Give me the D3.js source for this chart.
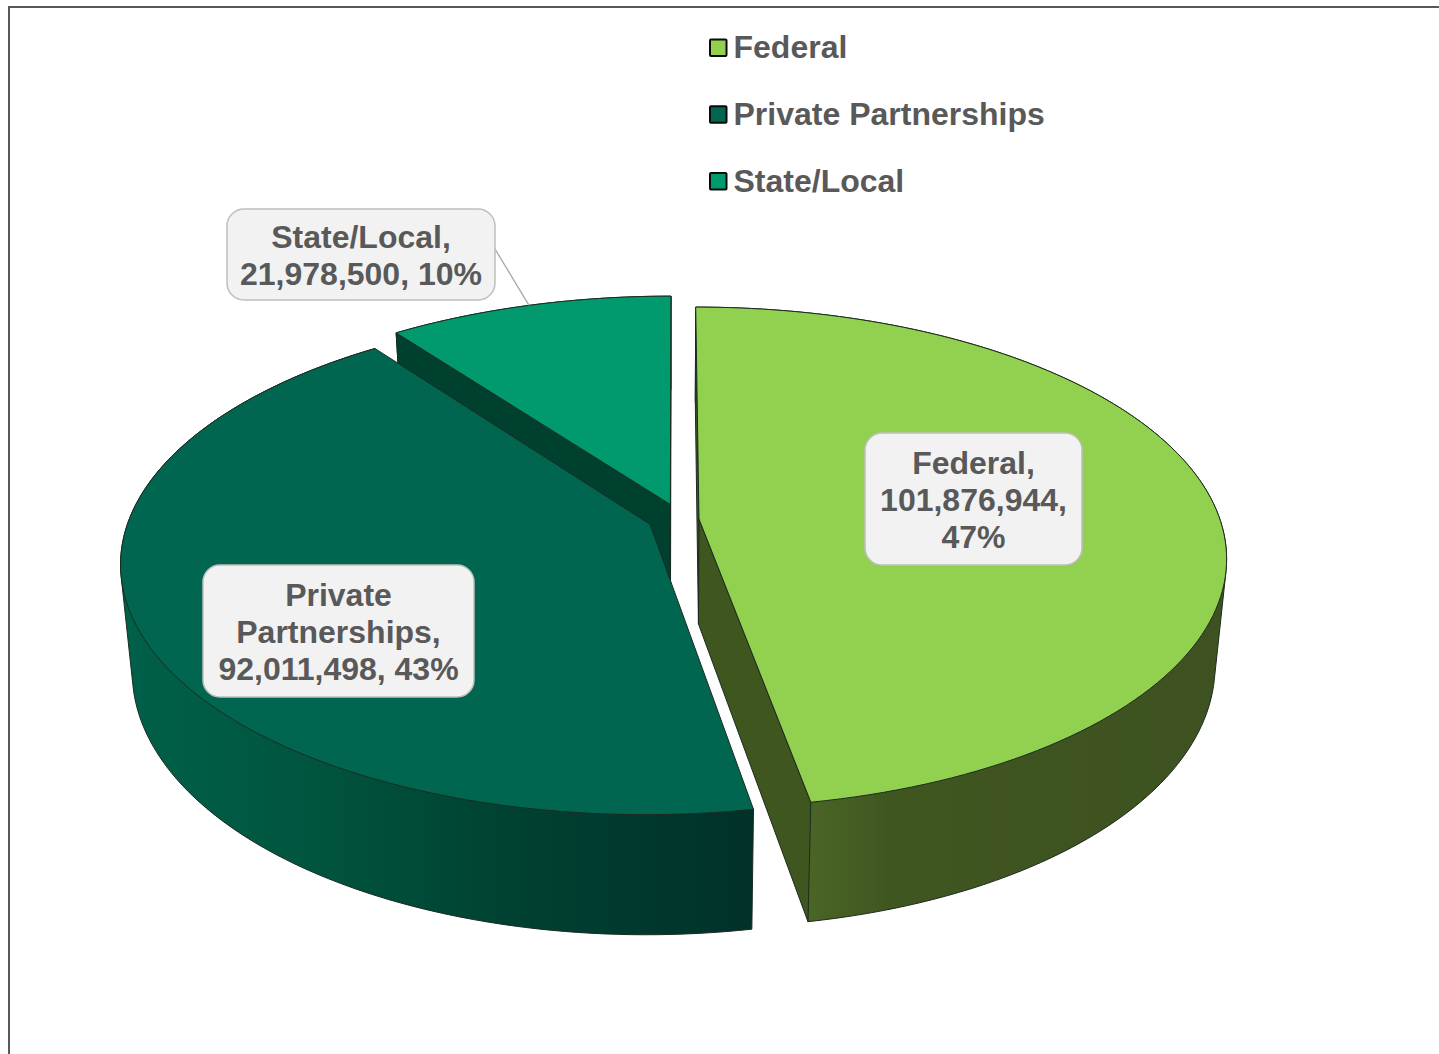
<!DOCTYPE html>
<html>
<head>
<meta charset="utf-8">
<style>
	body { margin: 0; background: #fff; }
	svg { display: block; }
	text { font-family: "Liberation Sans", Arial, sans-serif; font-weight: bold; fill: #595959; font-size: 32px; }
</style>
<script src="https://cdn.jsdelivr.net/npm/d3@7"></script>
</head>
<body>
<div id="chart"></div>
<script>
const categories = ["Federal", "Private Partnerships", "State/Local"];
const values = [101876944, 92011498, 21978500];
const percents = ["47%", "43%", "10%"];

const topColors = ["#92d050", "#00664f", "#009a6e"];
const WIDTH = 1439;
const HEIGHT = 1054;

// the disc is drawn in perspective, top rim and bottom rim get their own projection
const TOP_DISC = { cx: 674.5, cy: 519.5, a: 521, b: 244.5, p: 0.153 };
const BOTTOM_DISC = { cx: 674.5, cy: 624.5, a: 510, b: 257, p: 0.153 };
// how far each slice is pulled out of the disc, in disc radii
const EXPLODE = [[0.047, 0.002], [-0.047, -0.019], [-0.008, 0.062]];

// text lines and boxes of the data labels
const labelLines = [
	(i) => [categories[i] + ",", d3.format(",")(values[i]) + ",", percents[i]],
	(i) => ["Private", "Partnerships,", d3.format(",")(values[i]) + ", " + percents[i]],
	(i) => [categories[i] + ",", d3.format(",")(values[i]) + ", " + percents[i]],
];
const labelBoxes = [
	{ x: 865, y: 433, w: 217, h: 132, firstLine: 463 },
	{ x: 203, y: 565, w: 271, h: 132, firstLine: 595 },
	{ x: 227, y: 209, w: 268, h: 91, firstLine: 237 },
];

const svg = d3
	.select("#chart")
	.append("svg")
	.attr("width", WIDTH)
	.attr("height", HEIGHT)
	.attr("viewBox", `0 0 ${WIDTH} ${HEIGHT}`);

const defs = svg.append("defs");
const wallGradient = (id, x1, x2, stops) => {
	const g = defs
		.append("linearGradient")
		.attr("id", id)
		.attr("gradientUnits", "userSpaceOnUse")
		.attr("x1", x1)
		.attr("x2", x2)
		.attr("y1", 0)
		.attr("y2", 0);
	stops.forEach((s) => g.append("stop").attr("offset", s[0]).attr("stop-color", s[1]));
};
wallGradient("wall-0", 805, 1220, [[0, "#4a6626"], [0.2, "#405620"], [1, "#3d5220"]]);
wallGradient("wall-1", 125, 755, [[0, "#006049"], [0.3, "#00553f"], [0.6, "#004232"], [1, "#00312a"]]);
wallGradient("wall-2", 390, 675, [[0, "#00402f"], [1, "#00402f"]]);

const radialColors = ["#40561f", "#00332a", "#00402f"];

// frame, only the top and left sides are inside the picture
svg
	.append("path")
	.attr("d", `M9,${HEIGHT} V7 H${WIDTH}`)
	.attr("fill", "none")
	.attr("stroke", "#595959")
	.attr("stroke-width", 2);

const project = (disc, X, Y) => {
	const s = 1 / (1 + disc.p * Y);
	return [disc.cx + disc.a * X * s, disc.cy - disc.b * Y * s];
};

const slices = d3.pie().sort(null).value((d) => d)(values);

const rimPoints = (disc, slice, i) => {
	const [ox, oy] = EXPLODE[i];
	const steps = d3.range(0, 121).map((k) => k / 120);
	const angle = d3.scaleLinear().domain([0, 1]).range([slice.startAngle, slice.endAngle]);
	return steps.map((t) => project(disc, ox + Math.sin(angle(t)), oy + Math.cos(angle(t))));
};

const line = d3.line();
const outline = "#1c2b20";

// > 0 when the corners a, b, c turn clockwise on the screen
const turn = (a, b, c) => (b[0] - a[0]) * (c[1] - b[1]) - (b[1] - a[1]) * (c[0] - b[0]);

// painter's order, far slice first
const layer = svg.append("g").attr("class", "pie");
[2, 1, 0].forEach((i) => {
	const slice = slices[i];
	const [ox, oy] = EXPLODE[i];
	const topRim = rimPoints(TOP_DISC, slice, i);
	const bottomRim = rimPoints(BOTTOM_DISC, slice, i);
	const topApex = project(TOP_DISC, ox, oy);
	const bottomApex = project(BOTTOM_DISC, ox, oy);
	const last = topRim.length - 1;
	const g = layer.append("g").attr("class", "slice-" + i);

	// outside wall, the hull also fills the silhouette between the two rims
	g.append("path")
		.attr("d", line(d3.polygonHull(topRim.concat(bottomRim))) + "Z")
		.attr("fill", `url(#wall-${i})`)
		.attr("stroke", outline)
		.attr("stroke-width", 1)
		.attr("stroke-linejoin", "round");

	// radial walls, only the ones facing the viewer
	[0, last].forEach((end) => {
		const t = turn(topApex, topRim[end], bottomRim[end]);
		if ((end === 0 && t >= 0) || (end === last && t <= 0)) return;
		g.append("path")
			.attr("d", line([topApex, topRim[end], bottomRim[end], bottomApex]) + "Z")
			.attr("fill", radialColors[i])
			.attr("stroke", outline)
			.attr("stroke-width", 1)
			.attr("stroke-linejoin", "round");
	});

	// top face
	g.append("path")
		.attr("d", line([topApex].concat(topRim)) + "Z")
		.attr("fill", topColors[i])
		.attr("stroke", outline)
		.attr("stroke-width", 1)
		.attr("stroke-linejoin", "round");
});

// leader line of the State/Local label, it ends on the rim at the middle of the slice
const midState = (slices[2].startAngle + slices[2].endAngle) / 2;
const leaderEnd = project(
	TOP_DISC,
	EXPLODE[2][0] + Math.sin(midState),
	EXPLODE[2][1] + Math.cos(midState)
);
svg
	.append("line")
	.attr("x1", labelBoxes[2].x + labelBoxes[2].w)
	.attr("y1", labelBoxes[2].y + 40)
	.attr("x2", leaderEnd[0])
	.attr("y2", leaderEnd[1])
	.attr("stroke", "#a6a6a6")
	.attr("stroke-width", 1.3);

// data labels
const labels = svg
	.selectAll("g.label")
	.data(labelBoxes)
	.join("g")
	.attr("class", "label");
labels
	.append("rect")
	.attr("x", (d) => d.x)
	.attr("y", (d) => d.y)
	.attr("width", (d) => d.w)
	.attr("height", (d) => d.h)
	.attr("rx", 17)
	.attr("fill", "#f2f2f2")
	.attr("stroke", "#bfbfbf")
	.attr("stroke-width", 1.5);
labels.each(function (d, i) {
	d3.select(this)
		.selectAll("text")
		.data(labelLines[i](i))
		.join("text")
		.attr("x", d.x + d.w / 2)
		.attr("y", (t, k) => d.firstLine + 10.7 + k * 37)
		.attr("text-anchor", "middle")
		.text((t) => t);
});

// legend
const legendY = d3.scalePoint().domain(categories).range([47.5, 181]);
const legend = svg
	.selectAll("g.legend")
	.data(categories)
	.join("g")
	.attr("class", "legend")
	.attr("transform", (d) => `translate(710, ${legendY(d)})`);
legend
	.append("rect")
	.attr("x", 0)
	.attr("y", -8)
	.attr("width", 16.5)
	.attr("height", 16.5)
	.attr("rx", 1)
	.attr("fill", (d, i) => topColors[i])
	.attr("stroke", "#0a0a0a")
	.attr("stroke-width", 2);
legend
	.append("text")
	.attr("x", 23.5)
	.attr("y", 10.5)
	.text((d) => d);
</script>
</body>
</html>
